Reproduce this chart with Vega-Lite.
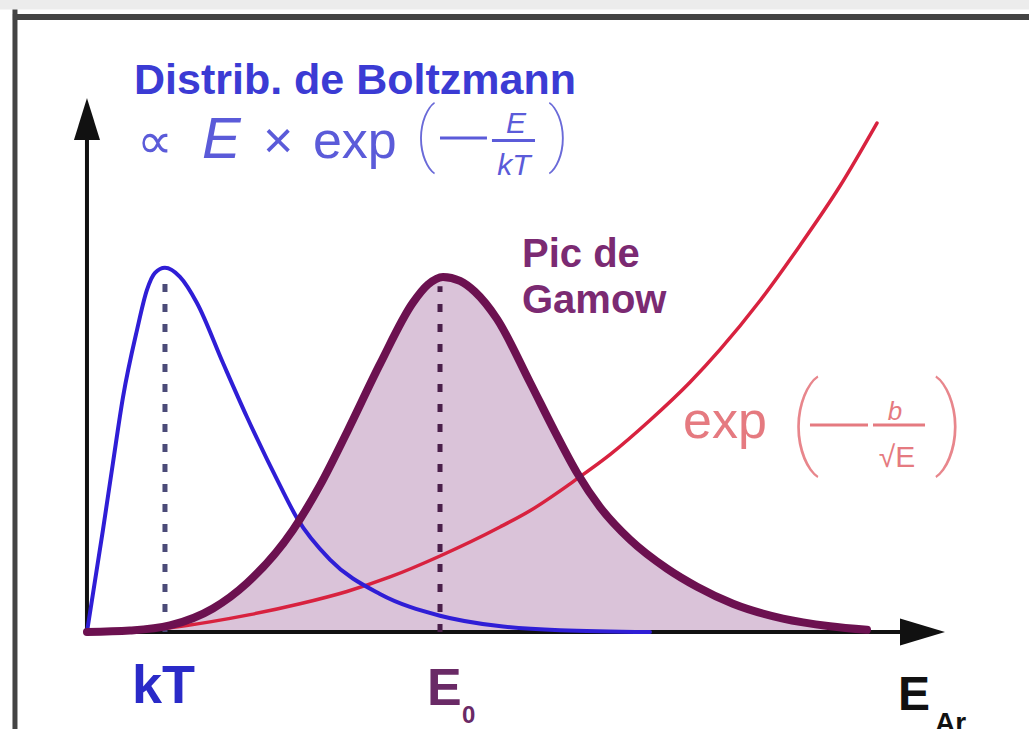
{
  "$schema": "https://vega.github.io/schema/vega-lite/v6.json",
  "width": 1029,
  "height": 729,
  "autosize": {"type": "fit", "contains": "padding"},
  "padding": 0,
  "background": "white",
  "config": {"view": {"stroke": null}},
  "datasets": {
    "blue": [
      {"E": 0, "f": 0}, {"E": 0.205, "f": 0.282}, {"E": 0.333, "f": 0.467}, {"E": 0.462, "f": 0.649},
      {"E": 0.641, "f": 0.834}, {"E": 0.769, "f": 0.945}, {"E": 0.872, "f": 0.992}, {"E": 1.0, "f": 1.006},
      {"E": 1.192, "f": 0.981}, {"E": 1.41, "f": 0.909}, {"E": 1.744, "f": 0.743}, {"E": 2.051, "f": 0.594},
      {"E": 2.474, "f": 0.405}, {"E": 2.692, "f": 0.315}, {"E": 3.115, "f": 0.2}, {"E": 3.756, "f": 0.105},
      {"E": 4.526, "f": 0.045}, {"E": 5.256, "f": 0.017}, {"E": 6.064, "f": 0.005}, {"E": 7.218, "f": 0}
    ],
    "red": [
      {"E": 0, "f": 0}, {"E": 0.551, "f": 0.004}, {"E": 1.064, "f": 0.012}, {"E": 1.577, "f": 0.028},
      {"E": 2.09, "f": 0.048}, {"E": 2.731, "f": 0.078}, {"E": 3.333, "f": 0.112}, {"E": 3.885, "f": 0.152},
      {"E": 4.526, "f": 0.21}, {"E": 5.295, "f": 0.29}, {"E": 5.679, "f": 0.335}, {"E": 6.282, "f": 0.423},
      {"E": 6.705, "f": 0.49}, {"E": 7.218, "f": 0.585}, {"E": 7.731, "f": 0.69}, {"E": 8.115, "f": 0.78},
      {"E": 8.628, "f": 0.915}, {"E": 9.141, "f": 1.068}, {"E": 9.654, "f": 1.232}, {"E": 10.128, "f": 1.406}
    ],
    "gamow": [
      {"E": 0, "f": 0}, {"E": 0.551, "f": 0.004}, {"E": 1.064, "f": 0.018}, {"E": 1.615, "f": 0.065},
      {"E": 2.051, "f": 0.135}, {"E": 2.641, "f": 0.282}, {"E": 2.987, "f": 0.405}, {"E": 3.333, "f": 0.552},
      {"E": 3.756, "f": 0.74}, {"E": 4.179, "f": 0.91}, {"E": 4.372, "f": 0.96}, {"E": 4.564, "f": 0.981},
      {"E": 4.782, "f": 0.97}, {"E": 4.974, "f": 0.94}, {"E": 5.256, "f": 0.865}, {"E": 5.679, "f": 0.69},
      {"E": 6.0, "f": 0.553}, {"E": 6.282, "f": 0.44}, {"E": 6.577, "f": 0.345}, {"E": 6.962, "f": 0.255},
      {"E": 7.436, "f": 0.175}, {"E": 7.821, "f": 0.125}, {"E": 8.282, "f": 0.078}, {"E": 8.923, "f": 0.037},
      {"E": 9.526, "f": 0.016}, {"E": 10.0, "f": 0.006}
    ]
  },
  "encoding": {
    "x": {"field": "E", "type": "quantitative", "scale": {"domain": [-1.115, 12.077], "nice": false, "zero": false}, "axis": null},
    "y": {"field": "f", "type": "quantitative", "scale": {"domain": [-0.268, 1.746], "nice": false, "zero": false}, "axis": null}
  },
  "layer": [
    {
      "data": {"values": [{"E": -1.115, "E2": 12.077, "f": 1.746, "f2": 1.72}]},
      "mark": {"type": "rect", "color": "#ececec", "clip": true},
      "encoding": {"x2": {"field": "E2"}, "y2": {"field": "f2"}}
    },
    {
      "data": {"values": [{"E": -0.95, "E2": 12.077, "f": 1.699}]},
      "mark": {"type": "rule", "color": "#444444", "strokeWidth": 6, "clip": true},
      "encoding": {"x2": {"field": "E2"}}
    },
    {
      "data": {"values": [{"E": -0.923, "f": 1.72, "f2": -0.268}]},
      "mark": {"type": "rule", "color": "#444444", "strokeWidth": 5, "clip": true},
      "encoding": {"y2": {"field": "f2"}}
    },
    {
      "data": {"name": "gamow"},
      "mark": {"type": "area", "color": "#dac3d9", "interpolate": "monotone", "opacity": 1}
    },
    {
      "data": {"values": [{"E": 0, "f": -0.005, "f2": 1.36}]},
      "mark": {"type": "rule", "color": "#111111", "strokeWidth": 4},
      "encoding": {"y2": {"field": "f2"}}
    },
    {
      "data": {"values": [{"E": -0.03, "E2": 10.5, "f": 0}]},
      "mark": {"type": "rule", "color": "#111111", "strokeWidth": 4},
      "encoding": {"x2": {"field": "E2"}}
    },
    {
      "data": {"values": [{"E": 0, "f": 1.417}]},
      "mark": {"type": "point", "shape": "M0,-1L0.62,1L-0.62,1Z", "size": 1764, "filled": true, "color": "#111111", "opacity": 1, "strokeWidth": 0}
    },
    {
      "data": {"values": [{"E": 10.712, "f": 0}]},
      "mark": {"type": "point", "shape": "M1,0L-1,-0.6L-1,0.6Z", "size": 2025, "filled": true, "color": "#111111", "opacity": 1, "strokeWidth": 0}
    },
    {
      "data": {"values": [{"E": 1.0, "f": 0, "f2": 0.975}]},
      "mark": {"type": "rule", "color": "#4b4b78", "strokeWidth": 5, "strokeDash": [8, 12]},
      "encoding": {"y2": {"field": "f2"}}
    },
    {
      "data": {"values": [{"E": 4.526, "f": 0, "f2": 0.955}]},
      "mark": {"type": "rule", "color": "#4a1f4a", "strokeWidth": 5, "strokeDash": [8, 12]},
      "encoding": {"y2": {"field": "f2"}}
    },
    {
      "data": {"name": "red"},
      "mark": {"type": "line", "color": "#d8223f", "strokeWidth": 3.5, "interpolate": "monotone", "strokeCap": "round"}
    },
    {
      "data": {"name": "blue"},
      "mark": {"type": "line", "color": "#2f1ed6", "strokeWidth": 4, "interpolate": "monotone", "strokeCap": "round"}
    },
    {
      "data": {"name": "gamow"},
      "mark": {"type": "line", "color": "#6c1150", "strokeWidth": 8, "interpolate": "monotone", "strokeCap": "round"}
    },
    {
      "data": {"values": [{"E": 0.603, "f": 1.486, "label": "Distrib. de Boltzmann"}]},
      "mark": {"type": "text", "align": "left", "baseline": "alphabetic", "font": "Liberation Sans", "fontWeight": "bold", "fontSize": 43, "color": "#3b3bd4"},
      "encoding": {"text": {"field": "label"}}
    },
    {
      "data": {"values": [{"E": 0.64, "f": 1.309, "label": "∝"}]},
      "mark": {"type": "text", "align": "left", "baseline": "alphabetic", "font": "DejaVu Sans", "fontSize": 50, "color": "#5b5bd9"},
      "encoding": {"text": {"field": "label"}}
    },
    {
      "data": {"values": [
        {"E": 2.256, "f": 1.309, "label": "×"},
        {"E": 2.897, "f": 1.309, "label": "exp"}
      ]},
      "mark": {"type": "text", "align": "left", "baseline": "alphabetic", "font": "Liberation Sans", "fontSize": 52, "color": "#5b5bd9"},
      "encoding": {"text": {"field": "label"}}
    },
    {
      "data": {"values": [{"E": 1.474, "f": 1.309, "label": "E"}]},
      "mark": {"type": "text", "align": "left", "baseline": "alphabetic", "font": "Liberation Sans", "fontStyle": "italic", "fontSize": 58, "color": "#5b5bd9"},
      "encoding": {"text": {"field": "label"}}
    },
    {
      "data": {"values": [
        {"E": 4.205, "f": 1.31, "label": "("},
        {"E": 5.91, "f": 1.31, "label": ")"}
      ]},
      "mark": {"type": "text", "align": "left", "baseline": "alphabetic", "font": "Roboto", "fontWeight": 100, "fontSize": 70, "color": "#6a6ad8"},
      "encoding": {"text": {"field": "label"}}
    },
    {
      "data": {"values": [
        {"E": 4.526, "E2": 5.128, "f": 1.365},
        {"E": 5.192, "E2": 5.744, "f": 1.358}
      ]},
      "mark": {"type": "rule", "color": "#5b5bd9", "strokeWidth": 3},
      "encoding": {"x2": {"field": "E2"}}
    },
    {
      "data": {"values": [
        {"E": 5.5, "f": 1.378, "label": "E"},
        {"E": 5.474, "f": 1.262, "label": "kT"}
      ]},
      "mark": {"type": "text", "align": "center", "baseline": "alphabetic", "font": "Liberation Sans", "fontStyle": "italic", "fontSize": 30, "color": "#5b5bd9"},
      "encoding": {"text": {"field": "label"}}
    },
    {
      "data": {"values": [
        {"E": 5.577, "f": 1.008, "label": "Pic de"},
        {"E": 5.577, "f": 0.881, "label": "Gamow"}
      ]},
      "mark": {"type": "text", "align": "left", "baseline": "alphabetic", "font": "Liberation Sans", "fontWeight": "bold", "fontSize": 40, "color": "#7b2a72"},
      "encoding": {"text": {"field": "label"}}
    },
    {
      "data": {"values": [{"E": 7.641, "f": 0.536, "label": "exp"}]},
      "mark": {"type": "text", "align": "left", "baseline": "alphabetic", "font": "Liberation Sans", "fontSize": 52, "color": "#e57a80"},
      "encoding": {"text": {"field": "label"}}
    },
    {
      "data": {"values": [
        {"E": 9.013, "f": 0.489, "label": "("},
        {"E": 10.859, "f": 0.489, "label": ")"}
      ]},
      "mark": {"type": "text", "align": "left", "baseline": "alphabetic", "font": "Roboto", "fontWeight": 100, "fontSize": 100, "color": "#e8868c"},
      "encoding": {"text": {"field": "label"}}
    },
    {
      "data": {"values": [
        {"E": 9.269, "E2": 10.013, "f": 0.572},
        {"E": 10.077, "E2": 10.744, "f": 0.572}
      ]},
      "mark": {"type": "rule", "color": "#e57a80", "strokeWidth": 3},
      "encoding": {"x2": {"field": "E2"}}
    },
    {
      "data": {"values": [{"E": 10.359, "f": 0.586, "label": "b"}]},
      "mark": {"type": "text", "align": "center", "baseline": "alphabetic", "font": "Liberation Sans", "fontStyle": "italic", "fontSize": 26, "color": "#e57a80"},
      "encoding": {"text": {"field": "label"}}
    },
    {
      "data": {"values": [{"E": 10.385, "f": 0.456, "label": "√E"}]},
      "mark": {"type": "text", "align": "center", "baseline": "alphabetic", "font": "Liberation Sans", "fontSize": 30, "color": "#e57a80"},
      "encoding": {"text": {"field": "label"}}
    },
    {
      "data": {"values": [{"E": 0.577, "f": -0.196, "label": "kT"}]},
      "mark": {"type": "text", "align": "left", "baseline": "alphabetic", "font": "Liberation Sans", "fontWeight": "bold", "fontSize": 54, "color": "#2a2ac8"},
      "encoding": {"text": {"field": "label"}}
    },
    {
      "data": {"values": [{"E": 4.359, "f": -0.202, "label": "E"}]},
      "mark": {"type": "text", "align": "left", "baseline": "alphabetic", "font": "Liberation Sans", "fontWeight": "bold", "fontSize": 52, "color": "#6a2a66"},
      "encoding": {"text": {"field": "label"}}
    },
    {
      "data": {"values": [{"E": 4.808, "f": -0.251, "label": "0"}]},
      "mark": {"type": "text", "align": "left", "baseline": "alphabetic", "font": "Liberation Sans", "fontWeight": "bold", "fontSize": 24, "color": "#6a2a66"},
      "encoding": {"text": {"field": "label"}}
    },
    {
      "data": {"values": [{"E": 10.397, "f": -0.215, "label": "E"}]},
      "mark": {"type": "text", "align": "left", "baseline": "alphabetic", "font": "Liberation Sans", "fontWeight": "bold", "fontSize": 48, "color": "#111111"},
      "encoding": {"text": {"field": "label"}}
    },
    {
      "data": {"values": [{"E": 10.872, "f": -0.276, "label": "Ar"}]},
      "mark": {"type": "text", "align": "left", "baseline": "alphabetic", "font": "Liberation Sans", "fontWeight": "bold", "fontSize": 28, "color": "#111111", "clip": true},
      "encoding": {"text": {"field": "label"}}
    }
  ]
}
